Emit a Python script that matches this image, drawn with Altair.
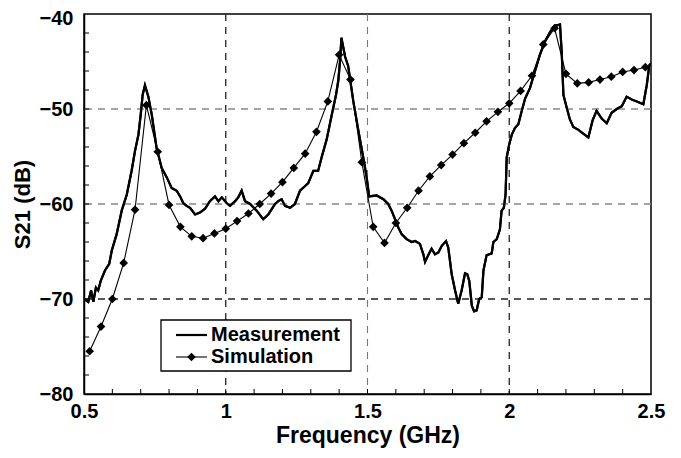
import altair as alt
import pandas as pd

# ---------------- data ----------------
meas_f = [0.500, 0.515, 0.525, 0.533, 0.542, 0.550, 0.559, 0.574, 0.589, 0.598,
          0.615, 0.633, 0.651, 0.668, 0.680, 0.692, 0.700, 0.707, 0.715, 0.727,
          0.739, 0.756, 0.774, 0.792, 0.809, 0.827, 0.839, 0.850, 0.862, 0.874,
          0.892, 0.909, 0.927, 0.944, 0.962, 0.974, 0.986, 1.003, 1.015, 1.033,
          1.044, 1.056, 1.068, 1.086, 1.109, 1.132, 1.150, 1.174, 1.185, 1.197,
          1.209, 1.227, 1.244, 1.262, 1.280, 1.291, 1.309, 1.326, 1.338, 1.356,
          1.374, 1.389, 1.397, 1.403, 1.408, 1.421, 1.432, 1.450, 1.468, 1.485,
          1.497, 1.506, 1.532, 1.556, 1.573, 1.585, 1.597, 1.609, 1.621, 1.638,
          1.656, 1.668, 1.685, 1.697, 1.703, 1.714, 1.726, 1.738, 1.750, 1.762,
          1.777, 1.785, 1.797, 1.809, 1.820, 1.832, 1.844, 1.852, 1.859, 1.868,
          1.876, 1.885, 1.894, 1.903, 1.909, 1.920, 1.938, 1.944, 1.956, 1.967,
          1.973, 1.981, 1.987, 1.991, 2.000, 2.009, 2.020, 2.032, 2.044, 2.056,
          2.073, 2.091, 2.108, 2.126, 2.144, 2.161, 2.169, 2.179, 2.185, 2.191,
          2.203, 2.214, 2.226, 2.244, 2.261, 2.279, 2.294, 2.308, 2.326, 2.344,
          2.361, 2.379, 2.397, 2.414, 2.432, 2.450, 2.473, 2.485, 2.494, 2.500]
meas_db = [-70.0, -70.3, -69.1, -70.3, -68.8, -69.1, -68.1, -67.0, -66.3, -64.9,
           -63.2, -60.7, -59.0, -56.5, -54.4, -52.7, -50.6, -48.5, -47.5, -48.7,
           -50.6, -54.1, -56.2, -57.2, -58.3, -58.6, -59.2, -59.9, -60.2, -60.4,
           -61.1, -60.9, -60.5, -59.7, -59.2, -59.7, -59.3, -59.9, -60.2, -59.7,
           -59.3, -58.6, -59.7, -60.0, -60.7, -61.6, -61.1, -60.0, -59.7, -59.5,
           -60.2, -60.4, -60.0, -58.6, -58.1, -57.8, -56.5, -56.5, -55.1, -53.2,
           -50.6, -48.5, -47.0, -45.0, -42.5, -44.5, -45.5, -49.2, -52.3, -55.1,
           -57.2, -59.2, -59.1, -59.5, -60.0, -60.7, -61.6, -62.5, -63.2, -63.7,
           -64.0, -63.9, -64.2, -65.3, -66.1, -65.4, -64.7, -65.3, -65.1, -64.4,
           -63.9, -64.6, -67.4, -69.1, -70.5, -69.1, -67.3, -67.4, -68.1, -70.7,
           -71.3, -71.2, -70.0, -69.8, -67.0, -65.4, -65.2, -64.0, -63.7, -62.7,
           -60.7, -60.4, -59.0, -55.1, -53.7, -52.7, -52.0, -51.6, -50.2, -48.9,
           -47.8, -46.0, -44.3, -42.9, -41.9, -41.2, -41.2, -41.1, -44.0, -48.5,
           -49.9, -51.1, -51.9, -52.2, -52.6, -53.0, -51.2, -50.2, -51.0, -51.5,
           -50.4, -50.0, -49.7, -48.7, -49.0, -49.2, -49.5, -47.5, -45.4, -45.2]

sim_f = [0.52, 0.56, 0.60, 0.64, 0.68, 0.72, 0.76, 0.80, 0.84, 0.88,
         0.92, 0.96, 1.00, 1.04, 1.08, 1.12, 1.16, 1.20, 1.24, 1.28,
         1.32, 1.36, 1.40, 1.44, 1.48, 1.52, 1.56, 1.60, 1.64, 1.68,
         1.72, 1.76, 1.80, 1.84, 1.88, 1.92, 1.96, 2.00, 2.04, 2.08,
         2.12, 2.16, 2.20, 2.24, 2.28, 2.32, 2.36, 2.40, 2.44, 2.48]
sim_db = [-75.5, -72.9, -70.0, -66.2, -60.6, -49.6, -54.5, -60.1, -62.4, -63.4,
          -63.6, -63.1, -62.6, -61.8, -61.0, -60.0, -58.9, -57.7, -56.2, -54.7,
          -52.4, -49.2, -44.3, -46.9, -55.6, -62.4, -64.1, -62.0, -60.4, -58.6,
          -57.1, -55.9, -54.8, -53.6, -52.5, -51.3, -50.3, -49.4, -48.1, -46.5,
          -43.2, -41.5, -46.3, -47.3, -47.2, -46.9, -46.6, -46.1, -45.9, -45.6]

x_major = [0.5, 1.0, 1.5, 2.0, 2.5]
y_major = [-80, -70, -60, -50, -40]
x_minor = [0.6, 0.7, 0.8, 0.9, 1.0, 1.1, 1.2, 1.3, 1.4, 1.5, 1.6, 1.7, 1.8,
           1.9, 2.0, 2.1, 2.2, 2.3, 2.4]
y_minor = [-78, -76, -74, -72, -70, -68, -66, -64, -62, -60, -58, -56, -54,
           -52, -50, -48, -46, -44, -42]
grid_x_dark = [1.0, 2.0]
grid_x_light = [1.5]
grid_y_dark = [-70]
grid_y_light = [-60, -50]
legend_labels = ["Measurement", "Simulation"]

W, H = 567, 380
FONT = "Liberation Sans"

xs = alt.Scale(domain=[0.5, 2.5], nice=False, zero=False)
ys = alt.Scale(domain=[-80, -40], nice=False, zero=False)

meas = pd.DataFrame({"f": meas_f, "db": meas_db})
sim = pd.DataFrame({"f": sim_f, "db": sim_db})

x_enc = alt.X("f:Q", scale=xs,
              axis=alt.Axis(values=x_major, format="~g", title="Frequency (GHz)",
                            ticks=False, grid=False, labelPadding=7,
                            labelFlush=False, titlePadding=3, titleFontSize=23,
                            domainColor="black", domainWidth=1.5))
y_enc = alt.Y("db:Q", scale=ys,
              axis=alt.Axis(values=y_major, title="S21 (dB)", ticks=False,
                            grid=False, labelPadding=11, titlePadding=5,
                            titleFontSize=22, labelFlush=False,
                            labelOffset={"condition": {"test": "datum.value == -40",
                                                       "value": 4},
                                         "value": 0},
                            domainColor="black", domainWidth=1.5))

dash = [7, 6]
gx_dark = alt.Chart(pd.DataFrame({"f": grid_x_dark})).mark_rule(
    color="#222", strokeDash=dash, strokeWidth=1.3).encode(x=alt.X("f:Q", scale=xs))
gx_light = alt.Chart(pd.DataFrame({"f": grid_x_light})).mark_rule(
    color="#777", strokeDash=dash, strokeWidth=1.1).encode(x=alt.X("f:Q", scale=xs))
gy_dark = alt.Chart(pd.DataFrame({"db": grid_y_dark})).mark_rule(
    color="#222", strokeDash=dash, strokeWidth=1.3).encode(y=alt.Y("db:Q", scale=ys))
gy_light = alt.Chart(pd.DataFrame({"db": grid_y_light})).mark_rule(
    color="#888", strokeDash=dash, strokeWidth=1.3).encode(y=alt.Y("db:Q", scale=ys))

tick_x = alt.Chart(pd.DataFrame({"f": x_minor})).mark_rule(
    color="black", strokeWidth=1).encode(
    x=alt.X("f:Q", scale=xs), y=alt.value(H), y2=alt.value(H - 5))
tick_y = alt.Chart(pd.DataFrame({"db": y_minor})).mark_rule(
    color="black", strokeWidth=1).encode(
    y=alt.Y("db:Q", scale=ys), x=alt.value(0), x2=alt.value(5))

meas_line = alt.Chart(meas).mark_line(color="black", strokeWidth=2.2,
                                      clip=True).encode(x=x_enc, y=y_enc)
sim_line = alt.Chart(sim).mark_line(color="black", strokeWidth=1.1,
                                    clip=True).encode(x=alt.X("f:Q", scale=xs),
                                                      y=alt.Y("db:Q", scale=ys))
sim_pts = alt.Chart(sim).mark_point(shape="diamond", filled=True, color="black",
                                    size=75, opacity=1).encode(
    x=alt.X("f:Q", scale=xs), y=alt.Y("db:Q", scale=ys))

# legend box (drawn in pixel space of the plot area)
one = pd.DataFrame({"k": [0]})
leg_box = alt.Chart(one).mark_rect(fill="white", stroke="black",
                                   strokeWidth=1.3).encode(
    x=alt.value(77), x2=alt.value(267), y=alt.value(306), y2=alt.value(357))
leg_l1 = alt.Chart(one).mark_rule(color="black", strokeWidth=2.2).encode(
    x=alt.value(92), x2=alt.value(123), y=alt.value(321))
leg_l2 = alt.Chart(one).mark_rule(color="black", strokeWidth=1.1).encode(
    x=alt.value(92), x2=alt.value(123), y=alt.value(343))
leg_pt = alt.Chart(one).mark_point(shape="diamond", filled=True, color="black",
                                   size=75, opacity=1).encode(
    x=alt.value(107.5), y=alt.value(343))
leg_t1 = alt.Chart(pd.DataFrame({"label": [legend_labels[0]]})).mark_text(
    align="left", baseline="middle", font=FONT, fontSize=20, fontWeight="bold",
    color="black").encode(x=alt.value(127), y=alt.value(321), text="label:N")
leg_t2 = alt.Chart(pd.DataFrame({"label": [legend_labels[1]]})).mark_text(
    align="left", baseline="middle", font=FONT, fontSize=20, fontWeight="bold",
    color="black").encode(x=alt.value(127), y=alt.value(343), text="label:N")

chart = alt.layer(
    meas_line, gx_dark, gx_light, gy_dark, gy_light, tick_x, tick_y,
    sim_line, sim_pts, meas_line.encode(),
    leg_box, leg_l1, leg_l2, leg_pt, leg_t1, leg_t2
).properties(
    width=W, height=H,
    autosize=alt.AutoSizeParams(type="none"),
    padding={"left": 76, "top": 6, "right": 20, "bottom": 56},
    background="white"
).configure_view(
    stroke="black", strokeWidth=1.5
).configure_axis(
    labelFont=FONT, labelFontSize=20, labelFontWeight="bold", labelColor="black",
    titleFont=FONT, titleFontWeight="bold", titleColor="black"
)

chart.save("out.html", embed_options={"renderer": "svg", "actions": False})
